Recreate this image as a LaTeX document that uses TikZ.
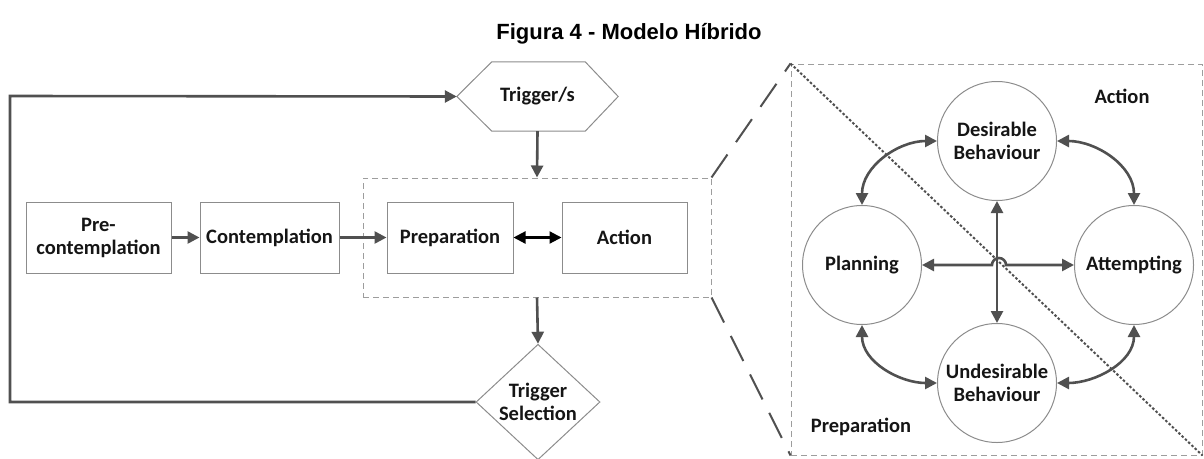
\documentclass[tikz,border=0pt]{standalone}
\usepackage{fontspec}
\setmainfont{Carlito}
\newfontfamily\titlefont{Liberation Sans}
\usetikzlibrary{arrows.meta,shapes.geometric}
\definecolor{linedark}{HTML}{505050}
\definecolor{boxgray}{HTML}{8C8C8C}
\definecolor{txt}{HTML}{151515}
\tikzset{
  lbl/.style={font=\bfseries\fontsize{20.5}{23}\selectfont, text=txt, align=center},
  stagebox/.style={lbl, draw=boxgray, line width=1pt, rectangle, minimum height=71pt, inner sep=2pt},
  statecirc/.style={lbl, draw=boxgray, line width=1pt, circle, minimum size=119pt, inner sep=0pt},
  groupbox/.style={draw=boxgray!85, line width=1pt, dash pattern=on 6pt off 4pt, rectangle, inner sep=0pt},
  conn/.style={draw=linedark, line width=2.6pt, -{Triangle[length=12pt,width=12pt]}},
  conn2/.style={draw=linedark, line width=2.6pt, {Triangle[length=12pt,width=12pt]}-{Triangle[length=12pt,width=12pt]}},
  zoomline/.style={draw=linedark, line width=2pt, dash pattern=on 28pt off 15pt},
}
\begin{document}
\begin{tikzpicture}[x=1pt,y=-1pt]
  \useasboundingbox (0,0) rectangle (1204,458);

  % title
  \node[font=\titlefont\bfseries\fontsize{22}{25}\selectfont] (title) at (629,34) {Figura 4 - Modelo Híbrido};

  % stage boxes
  \node[stagebox, minimum width=145pt] (pre) at (98.5,237.5) {Pre-\\contemplation};
  \node[stagebox, minimum width=139pt] (con) at (269.5,237.5) {Contemplation};
  \node[stagebox, minimum width=126pt] (prep) at (450,237.5) {Preparation};
  \node[stagebox, minimum width=125pt] (act) at (624.5,237.5) {Action};
  \node[groupbox, minimum width=348pt, minimum height=119pt] (grp) at (537,237.5) {};

  % trigger hexagon
  \node[lbl, minimum width=161pt, minimum height=69pt, inner sep=0pt] (trig) at (537.5,96.5) {Trigger/s};
  \draw[boxgray, line width=1pt] (trig.west) -- ([xshift=35pt]trig.north west) -- ([xshift=-33pt]trig.north east)
     -- (trig.east) -- ([xshift=-33pt]trig.south east) -- ([xshift=35pt]trig.south west) -- cycle;

  % trigger selection diamond
  \node[lbl, diamond, draw=boxgray, line width=1pt, minimum width=124pt, minimum height=114pt, inner sep=0pt] (ts) at (538,402) {Trigger\\Selection};

  % flow connectors
  \coordinate (lb) at (10,402);
  \coordinate (lt) at (10,96);
  \draw[conn] (pre) -- (con);
  \draw[conn] (con) -- (prep);
  \draw[draw=black, line width=2.2pt, {Triangle[length=12pt,width=12pt]}-{Triangle[length=12pt,width=12pt]}] (prep) -- (act);
  \draw[conn] (trig.south) -- (grp.north);
  \draw[conn] (grp.south) -- (ts.north);
  \draw[conn] (ts.west) -- (lb) -- (lt) -- (trig.west);

  % detail panel
  \node[groupbox, minimum width=411pt, minimum height=391pt] (panel) at (996.5,259.5) {};
  \draw[zoomline] (grp.north east) -- (panel.north west);
  \draw[zoomline] (grp.south east) -- (panel.south west);
  \draw[linedark, line width=2pt, dash pattern=on 2.5pt off 2pt] (panel.north west) -- (panel.south east);
  \node[lbl] (lact) at (1122,96) {Action};
  \node[lbl] (lprep) at (861,427) {Preparation};

  % behaviour states
  \node[statecirc] (des) at (997,141) {Desirable\\Behaviour};
  \node[statecirc] (pln) at (862,265) {Planning};
  \node[statecirc] (att) at (1134,265) {Attempting};
  \node[statecirc] (und) at (997,383) {Undesirable\\Behaviour};

  \draw[conn2] (pln.north) to[out=90,in=180] (des.west);
  \draw[conn2] (des.east) to[out=0,in=90] (att.north);
  \draw[conn2] (pln.south) to[out=-90,in=180] (und.west);
  \draw[conn2] (att.south) to[out=-90,in=0] (und.east);

  % central cross, horizontal line hopping over the vertical one
  \coordinate (hopL) at (992,265);
  \draw[conn2] (des.south) -- (und.north);
  \draw[conn2] (pln.east) -- (hopL) arc[start angle=180, end angle=0, radius=7pt] -- (att.west);
\end{tikzpicture}
\end{document}
